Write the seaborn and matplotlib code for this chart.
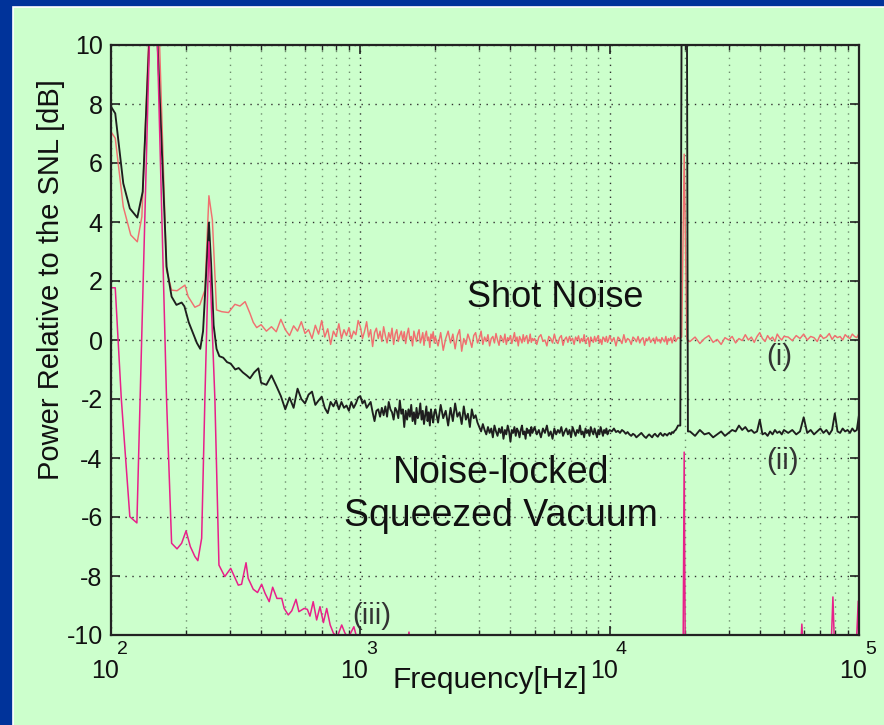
import matplotlib
matplotlib.use('Agg')
import matplotlib.pyplot as plt
from matplotlib.patches import Rectangle
from matplotlib.transforms import ScaledTranslation, blended_transform_factory
from matplotlib.ticker import FixedLocator, FixedFormatter, LogLocator, NullFormatter
import pandas as pd
import seaborn as sns

sns.set_style('ticks')
plt.rcParams['font.family'] = ['Liberation Sans', 'DejaVu Sans']
plt.rcParams['axes.unicode_minus'] = False

# ---------------- data ----------------
# (i) shot noise, low-frequency part
red_lo_f = [100, 104, 112, 120, 127.5, 133, 142, 156, 167, 175, 184, 198, 204, 217, 227,
            238, 247, 255, 265, 278, 296, 314, 329, 345, 361, 372, 384]
red_lo_v = [7.06, 6.84, 4.52, 3.56, 3.33, 4.18, 10.5, 10.5, 2.37, 1.69, 1.67, 1.86, 1.47, 1.11, 1.19,
            1.69, 4.89, 4.07, 1.02, 0.96, 0.93, 1.21, 1.15, 1.30, 0.90, 0.60, 0.42]

# (ii) noise-locked squeezed vacuum, low-frequency part
blk_lo_f = [100, 104, 112, 119, 127.5, 134, 143, 153, 167, 175, 183, 192, 197, 205, 214, 221, 228,
            234, 240, 247, 252, 258, 265, 272, 282, 292, 302, 315, 325, 338, 350, 361, 375, 390]
blk_lo_v = [7.91, 7.68, 5.31, 4.46, 4.15, 5.03, 10.5, 10.5, 2.49, 1.47, 1.19, 1.27, 1.14, 0.6, 0.2, -0.1, -0.3,
            0.3, 2.0, 3.98, 2.6, 0.5, -0.3, -0.55, -0.6, -0.75, -0.8, -1.0, -0.95, -1.1, -1.2, -1.30, -1.1, -0.96]

# shared high-frequency grid for (i) and (ii)
hi_f = [400, 420, 440, 460, 480, 500, 520, 540, 560, 580, 600, 620, 640, 660, 680, 700, 720, 740, 760, 780,
        800, 820, 840, 860, 880, 900, 920, 940, 960, 980,
        1000, 1020, 1040, 1060, 1080, 1100, 1120, 1140, 1160, 1180, 1200, 1220, 1240, 1260, 1280, 1300,
        1320, 1340, 1360, 1380, 1400, 1420, 1440, 1460, 1480, 1500, 1520, 1540, 1560, 1580, 1600, 1620,
        1640, 1660, 1680, 1700, 1720, 1740, 1760, 1780, 1800, 1820, 1840, 1860, 1880, 1900, 1920, 1940,
        1960, 1980,
        2000, 2050, 2100, 2150, 2200, 2250, 2300, 2350, 2400, 2450, 2500, 2550, 2600, 2650, 2700, 2750,
        2800, 2850, 2900, 2950, 3000, 3050, 3100, 3150, 3200, 3250, 3300, 3350, 3400, 3450, 3500, 3550,
        3600, 3650, 3700, 3750, 3800, 3850, 3900, 3950, 4000, 4050, 4100, 4150, 4200, 4250, 4300, 4350,
        4400, 4450, 4500, 4550, 4600, 4650, 4700, 4750, 4800, 4850, 4900, 4950,
        5000, 5100, 5200, 5300, 5400, 5500, 5600, 5700, 5800, 5900, 6000, 6100, 6200, 6300, 6400, 6500,
        6600, 6700, 6800, 6900, 7000, 7100, 7200, 7300, 7400, 7500, 7600, 7700, 7800, 7900, 8000, 8100,
        8200, 8300, 8400, 8500, 8600, 8700, 8800, 8900, 9000, 9100, 9200, 9300, 9400, 9500, 9600, 9700,
        9800, 9900,
        10000, 10200, 10400, 10600, 10800, 11000, 11200, 11400, 11600, 11800, 12000, 12200, 12400, 12600,
        12800, 13000, 13200, 13400, 13600, 13800, 14000, 14200, 14400, 14600, 14800, 15000, 15200, 15400,
        15600, 15800, 16000, 16200, 16400, 16600, 16800, 17000, 17200, 17400, 17600, 17800, 18000, 18200,
        18400, 18600, 18800,
        19200, 19450, 19900, 20400, 20600,
        21000, 22000, 23000, 24000, 25000, 26000, 27000, 28000, 29000, 30000, 31000, 32000, 33000, 34000,
        35000, 36000, 37000, 38000, 39000, 40000, 41000, 42000, 43000, 44000, 45000, 46000, 47000, 48000,
        49000, 50000,
        52000, 54000, 56000, 58000, 60000, 62000, 64000, 66000, 68000, 70000, 72000, 74000, 76000, 78000,
        80000, 82000, 84000, 86000, 88000, 90000, 92000, 94000, 96000, 98000, 100000]

red_hi_v = [0.52, 0.30, 0.45, 0.28, 0.70, 0.35, 0.15, 0.48, 0.30, 0.62, 0.22, 0.35, 0.05, 0.50, 0.20, 0.66,
            0.10, 0.38, -0.15, 0.30, 0.12, 0.55, 0.05, 0.35, 0.15, 0.42, 0.05, 0.30, 0.18, 0.66,
            # 1000-1980
            0.45, 0.05, 0.30, 0.62, 0.10, 0.35, -0.22, 0.25, 0.40, 0.05, 0.30, -0.05, 0.45, 0.15, -0.10,
            0.25, 0.05, 0.40, -0.15, 0.20, 0.35, -0.05, 0.15, 0.30, 0.00, 0.28, -0.12, 0.20, 0.40, 0.02,
            0.12, -0.20, 0.30, 0.10, -0.05, 0.22, 0.35, -0.10, 0.05, 0.25, -0.18, 0.15, 0.30, -0.02, 0.10,
            -0.25, 0.20, 0.05, 0.28, -0.10,
            # 2000-4950
            0.10, -0.20, 0.25, -0.35, 0.05, 0.30, -0.10, 0.20, -0.30, 0.15,
            0.35, -0.38, 0.05, -0.15, 0.20, 0.00, -0.25, 0.15, 0.25, -0.10,
            0.05, 0.30, -0.15, 0.10, -0.05, 0.18, -0.20, 0.05, 0.12, -0.10,
            0.22, 0.00, -0.18, 0.15, 0.05, -0.08, 0.20, -0.15, 0.08, 0.00,
            0.15, -0.12, 0.05, 0.25, -0.05, 0.10, -0.20, 0.12, 0.02, -0.10,
            0.18, -0.05, 0.08, 0.15, -0.12, 0.00, 0.20, -0.08, 0.05, -0.02,
            # 5000-9900
            0.05, -0.15, 0.10, 0.18, -0.05, 0.00, -0.20, 0.12, 0.05, -0.10,
            0.20, -0.05, -0.12, 0.08, 0.15, -0.18, 0.02, 0.10, -0.08, 0.12,
            -0.02, 0.06, -0.15, 0.10, 0.00, 0.14, -0.10, 0.05, -0.05, 0.18,
            -0.12, 0.02, 0.08, -0.22, 0.10, 0.00, -0.08, 0.12, -0.05, 0.06,
            0.15, -0.10, 0.02, -0.15, 0.10, 0.05, -0.05, 0.12, -0.08, 0.00,
            # 10000-18800
            0.15, -0.05, 0.08, -0.20, 0.10, 0.02, -0.12, 0.18, -0.08, 0.05,
            0.00, -0.15, 0.10, 0.04, -0.06, 0.12, -0.10, 0.02, 0.08, -0.18,
            0.05, -0.02, 0.10, -0.08, 0.00, 0.06, -0.12, 0.10, -0.04, 0.02,
            -0.10, 0.08, 0.00, -0.06, 0.12, -0.15, 0.05, -0.02, 0.08, -0.10,
            0.04, 0.15, -0.05, 0.02, 0.08,
            # around the 20 kHz line
            0.05, 0.10, 6.3, 0.05, -0.05,
            -0.05, 0.10, -0.12, 0.05, 0.15, -0.08, 0.02, -0.15, 0.08, 0.00, 0.12, -0.10, 0.05, -0.02,
            0.18, 0.00, 0.10, -0.08, 0.12, 0.25, 0.05, -0.05, 0.15, 0.02, 0.10, -0.05, 0.20, 0.08, 0.00, 0.12,
            0.10, -0.02, 0.15, 0.05, 0.20, 0.00, 0.12, 0.08, -0.05, 0.18, 0.05, 0.10, 0.22, 0.02,
            0.15, 0.08, 0.12, 0.00, 0.18, 0.10, 0.05, 0.20, 0.12, 0.08, 0.22]

blk_hi_v = [-1.45, -1.52, -1.20, -1.55, -1.90, -2.35, -1.95, -2.30, -1.65, -2.00, -2.15, -1.85, -1.75, -2.20,
            -2.05, -1.92, -2.30, -2.48, -2.10, -2.25, -2.05, -2.35, -2.10, -2.30, -2.22, -2.40, -2.10, -2.30,
            -2.15, -1.95,
            # 1000-1980
            -1.90, -2.15, -2.05, -2.30, -2.20, -2.10, -2.45, -2.75, -2.40, -2.35,
            -2.60, -2.30, -2.55, -2.25, -2.60, -2.10, -2.35, -2.45, -2.70, -2.30,
            -2.40, -2.65, -2.05, -2.50, -2.35, -2.95, -2.40, -2.70, -2.35, -2.60,
            -2.20, -2.75, -2.45, -2.85, -2.30, -2.65, -2.50, -2.15, -2.70, -2.40,
            -2.85, -2.55, -2.25, -2.75, -2.45, -2.90, -2.35, -2.60, -2.80, -2.45,
            # 2000-4950
            -2.35, -2.80, -2.20, -2.65, -2.40, -2.90, -2.30, -2.75, -2.15, -2.60,
            -2.45, -2.85, -2.25, -2.70, -2.50, -2.95, -2.35, -2.65, -2.55, -2.80,
            -2.95, -3.10, -2.85, -3.05, -3.20, -2.95, -3.15, -3.00, -3.30, -2.90,
            -3.10, -3.25, -3.00, -3.15, -2.95, -3.35, -3.05, -3.20, -2.90, -3.10,
            -3.45, -3.05, -3.15, -2.95, -3.25, -3.00, -3.10, -3.30, -3.05, -2.90,
            -3.20, -3.10, -3.35, -3.00, -3.15, -3.05, -3.25, -2.95, -3.15, -3.05,
            # 5000-9900
            -2.95, -3.20, -3.05, -3.30, -3.00, -3.15, -2.90, -3.25, -3.10, -3.35,
            -3.00, -3.20, -3.05, -3.15, -2.95, -3.25, -3.10, -3.00, -3.20, -3.05,
            -3.30, -2.95, -3.10, -3.25, -3.05, -3.15, -2.90, -3.20, -3.10, -3.30,
            -3.00, -3.15, -3.05, -3.25, -2.95, -3.10, -3.20, -3.00, -3.15, -3.30,
            -3.05, -3.20, -2.95, -3.10, -3.25, -3.05, -3.15, -3.00, -3.20, -3.10,
            # 10000-18800
            -3.05, -3.10, -3.00, -3.12, -3.08, -3.15, -3.05, -3.10, -3.18, -3.12,
            -3.20, -3.25, -3.18, -3.22, -3.30, -3.25, -3.20, -3.15, -3.22, -3.28,
            -3.32, -3.25, -3.20, -3.25, -3.30, -3.22, -3.18, -3.24, -3.28, -3.20,
            -3.15, -3.22, -3.25, -3.18, -3.20, -3.24, -3.18, -3.15, -3.20, -3.12,
            -3.15, -3.08, -3.05, -2.98, -2.90,
            # around the 20 kHz line
            -2.90, 12.0, 12.0, 12.0, -3.10,
            -3.10, -3.25, -3.05, -3.20, -3.15, -3.30, -3.20, -3.10, -3.25, -3.15, -3.05, -3.10, -2.90, -3.05,
            -2.95, -3.10, -3.05, -3.15, -3.10, -2.70, -3.20, -3.15, -3.25, -3.10, -3.20, -3.05, -3.15, -3.10,
            -3.20, -3.05,
            -3.15, -3.05, -3.20, -3.10, -2.62, -3.15, -3.05, -3.20, -3.10, -3.00, -3.15, -3.05, -3.20, -3.05,
            -2.49, -3.10, -3.15, -3.00, -3.10, -3.05, -3.15, -3.00, -3.10, -3.05, -2.54]

# (iii) electronic / dark noise
pnk_f = [100, 104, 110, 119, 127, 143, 153, 167, 175, 184, 192, 200, 208, 217, 223, 231, 238, 247, 261,
         271, 286, 302, 324, 334, 348, 355, 372, 387, 402, 415, 431, 445, 463, 484, 495, 514, 531, 552,
         567, 595, 613, 628, 647, 668, 689, 711, 733, 757, 780, 809, 842, 867, 894, 942, 965, 1000,
         1200, 1540, 1567, 1600, 5000, 19700, 19900, 20100, 58000, 59000, 60000, 77000, 78600, 80000,
         97000, 99300, 100000]
pnk_v = [1.77, 1.77, -2.0, -5.99, -6.2, 10.5, 10.5, -2.0, -6.89, -7.08, -6.89, -6.47, -7.0, -7.34, -7.48,
         -6.72, -2.0, 3.33, -2.0, -7.63, -8.02, -7.74, -8.31, -8.28, -7.55, -8.08, -8.45, -8.56, -8.28,
         -8.59, -8.87, -8.38, -8.76, -8.76, -9.10, -9.32, -9.18, -8.79, -9.21, -9.10, -9.13, -9.36, -8.87,
         -9.49, -9.04, -9.58, -9.10, -9.66, -9.94, -10.05, -9.66, -9.93, -10.1, -9.72, -10.05, -10.3,
         -10.6, -10.5, -9.9, -10.6, -10.8, -10.8, -3.8, -10.8, -10.8, -9.63, -10.8, -10.8, -8.71, -10.8,
         -10.8, -8.85, -10.8]

y_ticks = [-10, -8, -6, -4, -2, 0, 2, 4, 6, 8, 10]
x_ticks = [1e2, 1e3, 1e4, 1e5]
x_tick_base = ['10', '10', '10', '10']
x_tick_exp = ['2', '3', '4', '5']

red_df = pd.DataFrame({'f': red_lo_f + hi_f, 'p': red_lo_v + red_hi_v})
blk_df = pd.DataFrame({'f': blk_lo_f + hi_f, 'p': blk_lo_v + blk_hi_v})
pnk_df = pd.DataFrame({'f': pnk_f, 'p': pnk_v})

# ---------------- figure ----------------
W, H = 884, 725
fig = plt.figure(figsize=(W / 100, H / 100), dpi=100)
fig.patch.set_facecolor('#00339A')
fig.add_artist(Rectangle((13 / W, -0.01), 1.05, (H - 7) / H + 0.01, transform=fig.transFigure,
                         facecolor='#CCFFCC', edgecolor='white', linewidth=1.2, zorder=0))

ax = fig.add_axes([111 / W, 90 / H, 748 / W, 590 / H])
ax.set_facecolor('#CCFFCC')
ax.set_xscale('log')

sns.lineplot(data=red_df, x='f', y='p', ax=ax, color='#F07070', linewidth=1.05,
             sort=False, estimator=None, zorder=3)
sns.lineplot(data=blk_df, x='f', y='p', ax=ax, color='#1E1E1E', linewidth=1.35,
             sort=False, estimator=None, zorder=4)
sns.lineplot(data=pnk_df, x='f', y='p', ax=ax, color='#E8208A', linewidth=1.1,
             sort=False, estimator=None, zorder=5)

ax.set_xlim(100, 1e5)
ax.set_ylim(-10, 10)

ax.xaxis.set_major_locator(FixedLocator(x_ticks))
ax.xaxis.set_major_formatter(FixedFormatter(x_tick_base))
ax.xaxis.set_minor_locator(LogLocator(base=10, subs=[2, 3, 4, 5, 6, 7, 8, 9]))
ax.xaxis.set_minor_formatter(NullFormatter())
ax.set_yticks(y_ticks)
ax.set_yticklabels([str(t) for t in y_ticks])

ax.grid(which='major', axis='both', linestyle=(0, (1, 4)), color='#303030', linewidth=1.0)
ax.grid(which='minor', axis='x', linestyle=(0, (1, 4)), color='#6E8C6E', linewidth=1.0)
ax.set_axisbelow(True)

for s in ax.spines.values():
    s.set_color('#222222')
    s.set_linewidth(1.6)
    s.set_zorder(6)

ax.tick_params(which='both', direction='in', top=True, right=True, color='#222222')
ax.tick_params(which='major', length=6.5, width=1.2, labelsize=18, labelcolor='#111111')
ax.tick_params(which='minor', length=3.5, width=1.0)
ax.tick_params(axis='y', pad=6)
ax.tick_params(axis='x', pad=17.5)

# shift the "10" of each x tick label a little left, exponent goes to its upper right
for lab in ax.get_xticklabels():
    lab.set_transform(lab.get_transform() + ScaledTranslation(-6 / 100, 0, fig.dpi_scale_trans))
xtrans = blended_transform_factory(ax.transData, ax.transAxes)
for t, e in zip(x_ticks, x_tick_exp):
    ax.annotate(e, xy=(t, 0), xycoords=xtrans, xytext=(4.5, -13.5), textcoords='offset points',
                ha='left', va='baseline', fontsize=14, color='#111111', annotation_clip=False)

ax.set_xlabel('Frequency[Hz]', fontsize=21.5, color='#111111')
ax.set_ylabel('Power Relative to the SNL [dB]', fontsize=21, color='#111111')
ax.xaxis.set_label_coords(0.507, -0.052)
ax.yaxis.set_label_coords(-0.062, 0.602)

ax.text(6040, 1.45, 'Shot Noise', ha='center', va='center', fontsize=26, color='#111111', zorder=7)
ax.text(3664, -5.25, 'Noise-locked\nSqueezed Vacuum', ha='center', va='center', fontsize=27,
        color='#111111', linespacing=1.25, zorder=7)
ax.text(47800, -0.58, '(i)', ha='center', va='center', fontsize=21, color='#333333', zorder=7)
ax.text(49200, -4.1, '(ii)', ha='center', va='center', fontsize=21, color='#333333', zorder=7)
ax.text(1114, -9.36, '(iii)', ha='center', va='center', fontsize=21, color='#333333', zorder=7)

fig.savefig('out.png', dpi=100, facecolor=fig.get_facecolor())
